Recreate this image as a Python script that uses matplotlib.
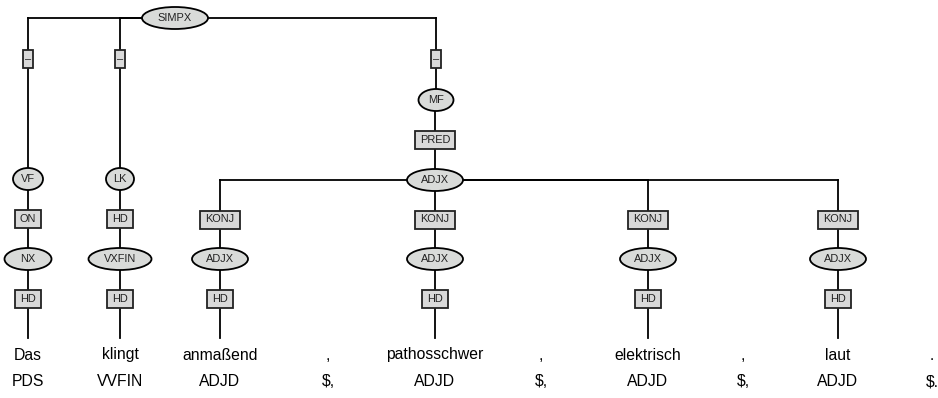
import matplotlib
matplotlib.use("Agg")
import matplotlib.pyplot as plt
from matplotlib.patches import Ellipse, Rectangle

plt.rcParams['font.family'] = ['Liberation Sans', 'DejaVu Sans']

# Sentence and part-of-speech tags
tokens = ["Das", "klingt", "anmaßend", ",", "pathosschwer", ",", "elektrisch", ",", "laut", "."]
pos_tags = ["PDS", "VVFIN", "ADJD", "$,", "ADJD", "$,", "ADJD", "$,", "ADJD", "$."]

# Non-terminal nodes: label, parent index, edge label
node_labels = ["SIMPX", "VF", "LK", "MF", "NX", "VXFIN", "ADJX", "ADJX", "ADJX", "ADJX", "ADJX"]
node_parents = [None, 0, 0, 0, 1, 2, 3, 6, 6, 6, 6]
node_edges = [None, "–", "–", "–", "ON", "HD", "PRED", "KONJ", "KONJ", "KONJ", "KONJ"]

# Terminal attachment: token index -> (parent node, edge label)
token_parents = [4, 5, 7, None, 8, None, 9, None, 10, None]
token_edges = ["HD", "HD", "HD", None, "HD", None, "HD", None, "HD", None]

# layout (pixel coordinates)
token_x = [28, 120, 220, 328, 435, 541, 648, 743, 838, 932]
node_xy = [(175, 18), (28, 179), (120, 179), (436, 100), (28, 259), (120, 259),
           (435, 180), (220, 259), (435, 259), (648, 259), (838, 259)]
node_w = [66, 30, 28, 35, 47, 63, 56, 56, 56, 56, 56]
node_h = 22
leaf_y = 338
word_y = 355
tag_y = 382
edge_off = 41

fig = plt.figure(figsize=(9.38, 3.98), dpi=100)
ax = fig.add_axes([0, 0, 1, 1])
ax.set_xlim(0, 938)
ax.set_ylim(398, 0)
ax.axis('off')

line_kw = dict(color='black', lw=1.3, zorder=1)
renderer = fig.canvas.get_renderer()


def edge_box(x, y, label):
    t = ax.text(x, y, label, ha='center', va='center', fontsize=7.9,
                color='#222222', zorder=4)
    bb = t.get_window_extent(renderer=renderer)
    # the empty edge label gets a narrow box
    w = 10 if label == "–" else bb.width + 10
    h = 18
    ax.add_patch(Rectangle((x - w / 2, y - h / 2), w, h, facecolor='#d9d9d9',
                           edgecolor='#222222', lw=1.3, zorder=3))


def connect(px, py, cx, cy, label):
    ax.plot([px, cx], [py, py], **line_kw)
    ax.plot([cx, cx], [py, cy], **line_kw)
    edge_box(cx, py + edge_off if label == "–" else (py + cy) / 2, label)


# edges between non-terminals
for i, p in enumerate(node_parents):
    if p is None:
        continue
    px, py = node_xy[p]
    cx, cy = node_xy[i]
    connect(px, py, cx, cy, node_edges[i])

# edges to terminals
for i, p in enumerate(token_parents):
    if p is None:
        continue
    px, py = node_xy[p]
    connect(px, py, token_x[i], leaf_y, token_edges[i])

# node ellipses
for i, lab in enumerate(node_labels):
    x, y = node_xy[i]
    ax.add_patch(Ellipse((x, y), node_w[i], node_h, facecolor='#d9dbd9',
                         edgecolor='black', lw=1.3, zorder=3))
    ax.text(x, y, lab, ha='center', va='center', fontsize=7.9,
            color='#222222', zorder=4)

# words and tags
for x, w, t in zip(token_x, tokens, pos_tags):
    ax.text(x, word_y, w, ha='center', va='center', fontsize=11.3)
    ax.text(x, tag_y, t, ha='center', va='center', fontsize=11.3)

fig.savefig("out.png", dpi=100)
